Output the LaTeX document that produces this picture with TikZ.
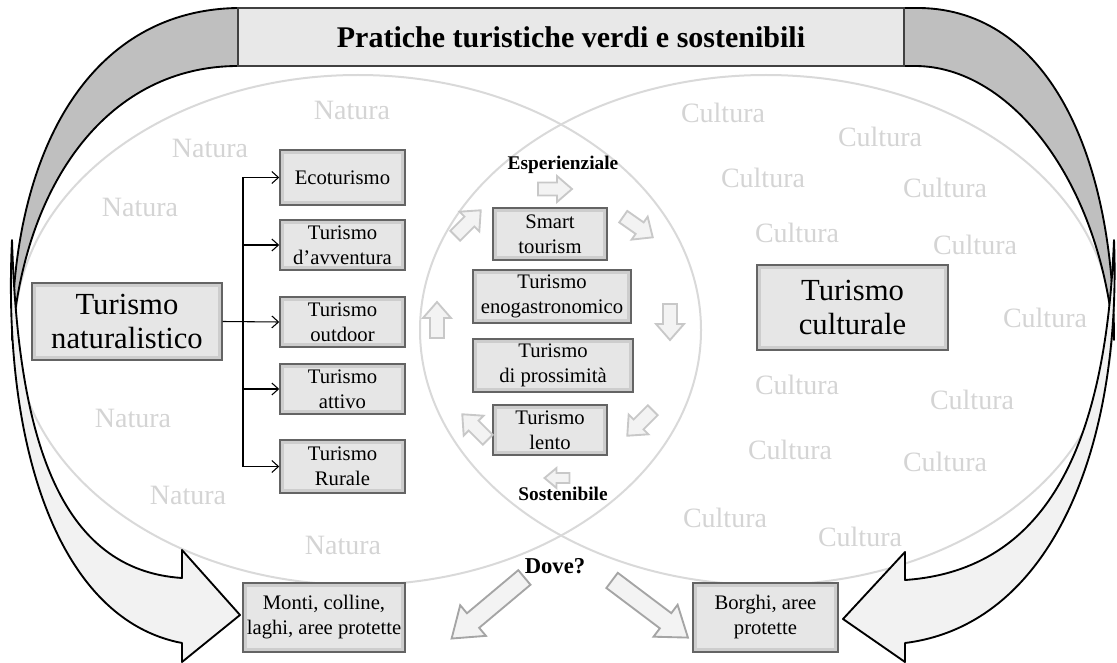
\documentclass[tikz,border=0pt]{standalone}
\usepackage{fontspec}
\setmainfont{Liberation Serif}
\usetikzlibrary{arrows.meta}
\definecolor{boxfill}{RGB}{230,230,230}
\definecolor{boxborder}{RGB}{100,100,100}
\definecolor{boxbevel}{RGB}{205,205,205}
\definecolor{bannerfill}{RGB}{232,232,232}
\definecolor{bandback}{RGB}{191,191,191}
\definecolor{bandfront}{RGB}{242,242,242}
\definecolor{vennline}{RGB}{217,217,217}
\definecolor{watermark}{RGB}{212,212,212}
\definecolor{smallarrowline}{RGB}{200,200,200}
\definecolor{smallarrowfill}{RGB}{243,243,243}
\definecolor{dovearrowline}{RGB}{165,165,165}
\begin{document}
\begin{tikzpicture}[x=0.75pt,y=-0.75pt,
  box/.style={draw=boxborder, fill=boxfill, line width=1.1pt, align=center, inner sep=0pt,
    path picture={\draw[boxbevel, line width=2pt]
      ([shift={(2pt,-2pt)}]path picture bounding box.north west) rectangle
      ([shift={(-2pt,2pt)}]path picture bounding box.south east);}},
  smallbox/.style={box, font=\fontsize{15.5}{18.75}\selectfont},
  bigbox/.style={box, font=\fontsize{23}{25}\selectfont},
  wm/.style={text=watermark, font=\fontsize{21}{24}\selectfont, inner sep=0pt},
  venn/.style={draw=vennline, line width=1.5pt},
  band/.style={draw=black, line width=1.4pt, line join=round},
  conn/.style={draw=black, line width=0.8pt, -{Straight Barb[length=5pt,width=9pt]}},
  trunkline/.style={draw=black, line width=0.8pt},
  boldlabel/.style={font=\fontsize{14.5}{17}\selectfont\bfseries, inner sep=0pt},
  pics/blockarrow/.style n args={4}{code={
    \path[pic actions] (-#1/2,-#2) -- (#1/2-#4,-#2) -- (#1/2-#4,-#3) -- (#1/2,0)
      -- (#1/2-#4,#3) -- (#1/2-#4,#2) -- (-#1/2,#2) -- cycle;
  }},
  smallarrow/.style={draw=smallarrowline, fill=smallarrowfill, line width=1.4pt, line join=miter},
  dovearrow/.style={draw=dovearrowline, fill=smallarrowfill, line width=1.4pt, line join=miter}
]
\useasboundingbox (0,0) rectangle (1117,663);

% two overlapping ellipses: nature and culture
\draw[venn] (358,330) ellipse [x radius=343, y radius=255];
\draw[venn] (766,330) ellipse [x radius=346, y radius=255];

% faded keywords
\node[wm] (n1) at (352,110) {Natura};
\node[wm] (n2) at (210,148) {Natura};
\node[wm] (n3) at (140,207) {Natura};
\node[wm] (n4) at (133,418) {Natura};
\node[wm] (n5) at (188,495) {Natura};
\node[wm] (n6) at (343,545) {Natura};
\node[wm] (c1) at (723,113) {Cultura};
\node[wm] (c2) at (880,137) {Cultura};
\node[wm] (c3) at (763,178) {Cultura};
\node[wm] (c4) at (945,188) {Cultura};
\node[wm] (c5) at (797,233) {Cultura};
\node[wm] (c6) at (975,245) {Cultura};
\node[wm] (c7) at (1045,318) {Cultura};
\node[wm] (c8) at (797,385) {Cultura};
\node[wm] (c9) at (972,400) {Cultura};
\node[wm] (c10) at (790,450) {Cultura};
\node[wm] (c11) at (945,462) {Cultura};
\node[wm] (c12) at (725,518) {Cultura};
\node[wm] (c13) at (860,537) {Cultura};

% left curved arrow: shaded back part, then front part with head
\path[band, fill=bandback] (238,8) .. controls (90,10) and (12,150) .. (12,340)
  .. controls (25,180) and (110,66) .. (238,66) -- cycle;
\path[band, fill=bandfront] (12,240) .. controls (18,440) and (60,570) .. (182,578)
  -- (182,550) -- (240,615) -- (182,662) -- (182,643)
  .. controls (60,620) and (2,450) .. (12,240) -- cycle;

% right curved arrow
\path[band, fill=bandback] (904,8) -- (920,8) .. controls (1045,10) and (1114,150) .. (1114,340)
  .. controls (1100,180) and (1010,66) .. (915,66) -- (904,66) -- cycle;
\path[band, fill=bandfront] (1114,240) .. controls (1106,440) and (1050,570) .. (905,580)
  -- (905,552) -- (843,619) -- (905,662) -- (905,643)
  .. controls (1050,625) and (1122,450) .. (1114,240) -- cycle;

% title banner
\node[draw=black!75, fill=bannerfill, line width=1pt, minimum width=666*0.75pt, minimum height=58*0.75pt,
  font=\fontsize{22.5}{27}\selectfont\bfseries] (banner) at (571,37) {Pratiche turistiche verdi e sostenibili};

% nature branch
\node[bigbox, minimum width=190*0.75pt, minimum height=77*0.75pt] (natur) at (127,321.5) {Turismo\\naturalistico};
\node[smallbox, minimum width=125*0.75pt, minimum height=55*0.75pt] (eco) at (342.5,177.5) {Ecoturismo};
\node[smallbox, minimum width=125*0.75pt, minimum height=50*0.75pt] (avv) at (342.5,245) {Turismo\\d’avventura};
\node[smallbox, minimum width=125*0.75pt, minimum height=50*0.75pt] (outd) at (342.5,322) {Turismo\\outdoor};
\node[smallbox, minimum width=125*0.75pt, minimum height=50*0.75pt] (att) at (342.5,389) {Turismo\\attivo};
\node[smallbox, minimum width=125*0.75pt, minimum height=53*0.75pt] (rur) at (342.5,466.5) {Turismo\\Rurale};

\coordinate (tt) at (243,177.5);
\coordinate (tb) at (243,466.5);
\draw[trunkline] (tt) -- (tb);
\draw[conn] (natur.east) -- (outd.west);
\draw[conn] (tt) -- (eco.west);
\draw[conn] (tt |- avv.west) -- (avv.west);
\draw[conn] (tt |- att.west) -- (att.west);
\draw[conn] (tb) -- (rur.west);

% centre of the lens
\node[boldlabel] (esp) at (563,165) {Esperienziale};
\node[boldlabel] (sost) at (563,494) {Sostenibile};
\node[smallbox, minimum width=114*0.75pt, minimum height=52*0.75pt] (smart) at (550,234) {Smart\\tourism};
\node[smallbox, minimum width=158*0.75pt, minimum height=53*0.75pt] (eno) at (552,296.5) {Turismo\\enogastronomico};
\node[smallbox, minimum width=160*0.75pt, minimum height=53*0.75pt] (pross) at (553,365.5) {Turismo\\di prossimità};
\node[smallbox, minimum width=114*0.75pt, minimum height=50*0.75pt] (lento) at (550,430) {Turismo\\lento};

% circular flow of small arrows
\pic[smallarrow] at (555,189) {blockarrow={34}{6.5}{13}{15}};
\pic[smallarrow, rotate=-35] at (638,227) {blockarrow={36}{7}{14}{16}};
\pic[smallarrow, rotate=-90] at (670,322) {blockarrow={36}{7}{14}{16}};
\pic[smallarrow, rotate=-135] at (640,423) {blockarrow={36}{7}{14}{16}};
\pic[smallarrow, rotate=180] at (557,478) {blockarrow={25}{5}{10}{12}};
\pic[smallarrow, rotate=135] at (475,427) {blockarrow={36}{7}{14}{16}};
\pic[smallarrow, rotate=90] at (437,320) {blockarrow={36}{7}{14}{16}};
\pic[smallarrow, rotate=45] at (468,223) {blockarrow={36}{7}{14}{16}};

% culture branch
\node[bigbox, minimum width=191*0.75pt, minimum height=85*0.75pt] (cult) at (852.5,307.5) {Turismo\\culturale};

% where?
\node[font=\fontsize{17}{20}\selectfont\bfseries, inner sep=0pt] (dove) at (555,566) {Dove?};
\node[smallbox, minimum width=162*0.75pt, minimum height=69*0.75pt] (monti) at (324,617.5) {Monti, colline,\\laghi, aree protette};
\node[smallbox, minimum width=145*0.75pt, minimum height=69*0.75pt] (borghi) at (765.5,617.5) {Borghi, aree\\protette};
\pic[dovearrow, rotate=-140] at (488,608) {blockarrow={95}{9.5}{20}{28}};
\pic[dovearrow, rotate=-37] at (650,609) {blockarrow={95}{9.5}{20}{28}};
\end{tikzpicture}
\end{document}
